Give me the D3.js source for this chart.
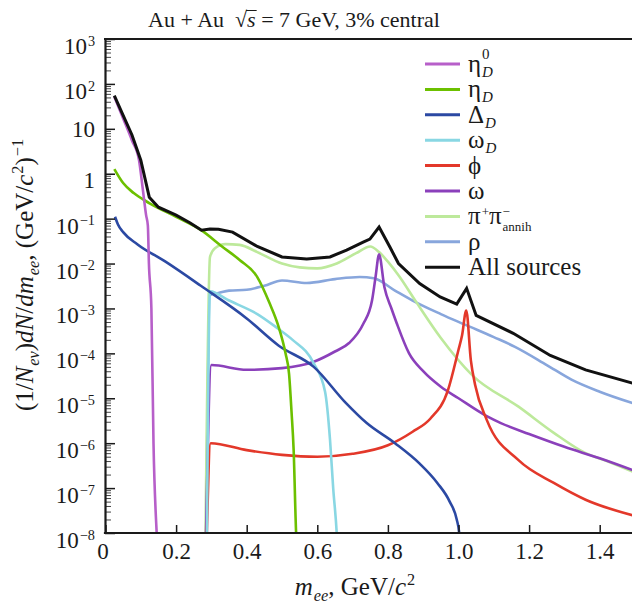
<!DOCTYPE html>
<html>
<head>
<meta charset="utf-8">
<script src="https://cdn.jsdelivr.net/npm/d3@7"></script>
<style>
  body { margin: 0; background: #fff; }
  text { font-family: "Liberation Serif", "Times New Roman", serif; fill: #1a1a1a; white-space: pre; }
</style>
</head>
<body>
<svg id="chart" width="632" height="607"></svg>
<script>
// values: [m_ee (GeV/c^2), dN/dm_ee]
const etaD0 = [[0.025, 52], [0.05, 17], [0.075, 5.5], [0.095, 2.0], [0.105, 0.5], [0.115, 0.12],
  [0.12, 0.07], [0.123, 0.01], [0.13, 1e-3], [0.136, 1e-6], [0.145, 1e-8], [0.147, 5e-9]];
const etaD = [[0.025, 1.27], [0.05, 0.62], [0.08, 0.37], [0.125, 0.22], [0.2, 0.11], [0.27, 0.056],
  [0.33, 0.024], [0.38, 0.012], [0.43, 5e-3], [0.465, 1.3e-3], [0.49, 4e-4], [0.51, 1e-4],
  [0.52, 3.5e-5], [0.527, 5e-6], [0.533, 7e-7], [0.54, 1e-8], [0.542, 5e-9]];
const deltaD = [[0.027, 0.11], [0.035, 0.075], [0.05, 0.05], [0.09, 0.027], [0.17, 0.011],
  [0.27, 3.2e-3], [0.4, 6e-4], [0.49, 1.5e-4], [0.59, 5e-5], [0.68, 8e-6], [0.74, 2.8e-6],
  [0.82, 1e-6], [0.89, 3.5e-7], [0.94, 1.3e-7], [0.975, 5e-8], [0.995, 2e-8], [1.002, 1e-8], [1.003, 5e-9]];
const omegaD = [[0.287, 5e-9], [0.296, 2.4e-3], [0.35, 1.5e-3], [0.43, 7.5e-4], [0.49, 3.5e-4],
  [0.53, 2e-4], [0.59, 6e-5], [0.622, 1.4e-5], [0.636, 1.2e-6], [0.645, 1e-7], [0.655, 1e-8], [0.657, 5e-9]];
const phi = [[0.286, 5e-9], [0.298, 1e-6], [0.4, 7e-7], [0.5, 5.5e-7], [0.6, 5e-7], [0.7, 5.8e-7],
  [0.8, 9e-7], [0.87, 1.8e-6], [0.92, 3.5e-6], [0.97, 1.5e-5], [1.0, 1.2e-4], [1.01, 2.5e-4],
  [1.022, 9e-4], [1.035, 7e-5], [1.047, 2e-5], [1.08, 3.3e-6], [1.17, 4.2e-7], [1.27, 1.3e-7],
  [1.36, 5.5e-8], [1.5, 2.4e-8]];
const omega = [[0.284, 5e-9], [0.3, 5.5e-5], [0.4, 4.3e-5], [0.5, 4.7e-5], [0.59, 6.5e-5],
  [0.65, 1.1e-4], [0.69, 1.7e-4], [0.73, 4.5e-4], [0.755, 1.5e-3], [0.765, 5e-3], [0.775, 0.016],
  [0.79, 3e-3], [0.81, 1e-3], [0.825, 4.7e-4], [0.86, 1e-4], [0.9, 4e-5], [0.95, 1.8e-5],
  [1.0, 1e-5], [1.08, 4e-6], [1.12, 2.8e-6], [1.2, 1.6e-6], [1.3, 8.3e-7], [1.4, 4.6e-7], [1.5, 2.4e-7]];
const pipiAnnih = [[0.283, 5e-9], [0.296, 0.014], [0.31, 0.022], [0.34, 0.027], [0.38, 0.026],
  [0.43, 0.018], [0.5, 0.01], [0.55, 0.0082], [0.6, 0.0078], [0.655, 0.01], [0.71, 0.017],
  [0.75, 0.024], [0.775, 0.018], [0.8, 0.011], [0.83, 5.5e-3], [0.88, 1.4e-3], [0.95, 2.2e-4],
  [1.04, 3.2e-5], [1.17, 6.5e-6], [1.27, 1.7e-6], [1.36, 6e-7], [1.42, 4e-7], [1.5, 2.2e-7]];
const rho = [[0.285, 5e-9], [0.296, 2e-3], [0.32, 2.2e-3], [0.35, 2.5e-3], [0.4, 2.6e-3],
  [0.45, 3.2e-3], [0.5, 4.2e-3], [0.57, 3.7e-3], [0.65, 4.5e-3], [0.72, 5e-3], [0.76, 4.7e-3],
  [0.82, 2.5e-3], [0.87, 1.5e-3], [0.95, 7.5e-4], [1.02, 4.3e-4], [1.1, 2.3e-4], [1.16, 1.4e-4],
  [1.25, 5.5e-5], [1.32, 2.6e-5], [1.4, 1.4e-5], [1.5, 7.5e-6]];
const allSources = [[0.025, 55], [0.05, 20], [0.075, 7.3], [0.1, 2.0], [0.124, 0.3], [0.15, 0.18],
  [0.2, 0.12], [0.24, 0.08], [0.272, 0.055], [0.296, 0.059], [0.32, 0.058], [0.36, 0.05],
  [0.43, 0.024], [0.5, 0.014], [0.57, 0.0126], [0.636, 0.014], [0.683, 0.02], [0.73, 0.03],
  [0.749, 0.035], [0.775, 0.065], [0.806, 0.023], [0.83, 0.01], [0.89, 3.6e-3], [0.948, 1.8e-3],
  [0.995, 1.25e-3], [1.023, 2.8e-3], [1.05, 7e-4], [1.155, 2.8e-4], [1.26, 9e-5], [1.36, 4.3e-5],
  [1.5, 2.1e-5]];

const xTickValues = [0, 0.2, 0.4, 0.6, 0.8, 1.0, 1.2, 1.4];
const yDecades = [-8, -7, -6, -5, -4, -3, -2, -1, 0, 1, 2, 3];

// legend labels: plain text parts and stacked sub/sup parts
const legendLabels = [
  [{ t: "η" }, { sub: "D", sup: "0" }],
  [{ t: "η" }, { sub: "D" }],
  [{ t: "Δ" }, { sub: "D" }],
  [{ t: "ω" }, { sub: "D" }],
  [{ t: "ϕ" }],
  [{ t: "ω" }],
  [{ t: "π" }, { sup: "+" }, { t: "π" }, { sup: "−", sub: "annih", subRoman: true }],
  [{ t: "ρ" }],
  [{ t: "All sources" }]
];
const seriesData = [etaD0, etaD, deltaD, omegaD, phi, omega, pipiAnnih, rho, allSources];
const seriesColors = ["#b75fc9", "#6cc000", "#2b49a3", "#89d7e3", "#e3382a", "#8b40bb", "#bde99b", "#88a6dc", "#111111"];
const drawOrder = [7, 6, 5, 4, 3, 2, 1, 0, 8];

const svg = d3.select("#chart");
const x = d3.scaleLinear().domain([0, 1.5]).range([105.5, 635]);
const y = d3.scaleLog().domain([1e-8, 1e3]).range([533, 39]);

// write a label made of parts; returns end x
function richText(g, x0, y0, parts, size, opt = {}) {
  const sc = opt.scale || 0.62, supDy = opt.supDy || 0.5, subDy = opt.subDy || 0.22;
  let cx = x0;
  parts.forEach(p => {
    if (p.t !== undefined) {
      const t = g.append("text").attr("x", cx).attr("y", y0)
        .style("font-size", size + "px")
        .style("font-style", p.i ? "italic" : "normal")
        .text(p.t);
      cx += t.node().getComputedTextLength();
    } else {
      let w = 0;
      if (p.sup) {
        const t = g.append("text").attr("x", cx + 1).attr("y", y0 - size * supDy)
          .style("font-size", (size * sc) + "px").text(p.sup);
        w = Math.max(w, t.node().getComputedTextLength() + 1);
      }
      if (p.sub) {
        const t = g.append("text").attr("x", cx + 1).attr("y", y0 + size * subDy)
          .style("font-size", (size * sc) + "px")
          .style("font-style", p.subRoman ? "normal" : "italic").text(p.sub);
        w = Math.max(w, t.node().getComputedTextLength() + 1);
      }
      cx += w;
    }
  });
  return cx;
}

svg.append("defs").append("clipPath").attr("id", "plotClip")
  .append("rect").attr("x", 105).attr("y", 39).attr("width", 530).attr("height", 494);

// curves: smooth ones monotone, the sum kept as a polyline with its kinks
const smooth = d3.line().x(d => x(d[0])).y(d => y(d[1])).curve(d3.curveMonotoneX);
const straight = d3.line().x(d => x(d[0])).y(d => y(d[1]));
const curves = svg.append("g").attr("clip-path", "url(#plotClip)");
drawOrder.forEach(i => {
  curves.append("path")
    .attr("d", (i === 8 ? straight : smooth)(seriesData[i]))
    .attr("fill", "none")
    .attr("stroke", seriesColors[i])
    .attr("stroke-width", i === 8 ? 3 : 2.6)
    .attr("stroke-linejoin", "miter");
});

// y axis: major and minor ticks pointing inward
const majors = yDecades.map(e => Math.pow(10, e));
const minors = [];
yDecades.slice(0, -1).forEach(e => {
  for (let k = 2; k <= 9; k++) minors.push(k * Math.pow(10, e));
});
svg.append("g").attr("transform", "translate(105,0)")
  .call(d3.axisLeft(y).tickValues(minors).tickSizeInner(-6).tickSizeOuter(0).tickFormat(""))
  .call(g => g.select(".domain").remove())
  .call(g => g.selectAll(".tick line").attr("stroke", "#444").attr("stroke-width", 1));
svg.append("g").attr("transform", "translate(105,0)")
  .call(d3.axisLeft(y).tickValues(majors).tickSizeInner(-10).tickSizeOuter(0).tickFormat(""))
  .call(g => g.select(".domain").attr("stroke", "#1a1a1a").attr("stroke-width", 2.2))
  .call(g => g.selectAll(".tick line").attr("stroke", "#1a1a1a").attr("stroke-width", 1.5));

// y tick labels with exponents
yDecades.forEach(e => {
  const g = svg.append("g");
  const ty = y(Math.pow(10, e));
  let parts, base;
  if (e === 0) { parts = [{ t: "1" }]; base = ty + 14; }
  else if (e === 1) { parts = [{ t: "10" }]; base = ty + 8; }
  else { parts = [{ t: "10" }, { sup: e < 0 ? "−" + (-e) : String(e) }]; base = ty + 15; }
  const end = richText(g, 0, base, parts, 23, { scale: 0.62, supDy: 0.36 });
  g.attr("transform", `translate(${95 - end},0)`);
});

// x axis
svg.append("g").attr("transform", "translate(0,533)")
  .call(d3.axisBottom(x).tickValues(xTickValues).tickSizeInner(-8).tickSizeOuter(0).tickPadding(10)
    .tickFormat(d => d === 0 ? "0" : d.toFixed(1)))
  .call(g => g.select(".domain").attr("stroke", "#1a1a1a").attr("stroke-width", 2.2)
    .attr("d", "M103.9,0H632"))
  .call(g => g.selectAll(".tick line").attr("stroke", "#1a1a1a").attr("stroke-width", 1.5))
  .call(g => g.selectAll(".tick text").style("font-size", "23px")
    .style("font-family", "'Liberation Serif', serif").attr("fill", "#1a1a1a")
    .attr("dx", d => d === 0 ? -3 : 0));

// title
const titleG = svg.append("g");
let tx = richText(titleG, 0, 27, [{ t: "Au + Au  √" }], 22);
const sText = titleG.append("text").attr("x", tx).attr("y", 27)
  .style("font-size", "22px").style("font-style", "italic").text("s");
const sW = sText.node().getComputedTextLength();
titleG.append("line").attr("x1", tx - 1).attr("x2", tx + sW + 1).attr("y1", 10.5).attr("y2", 10.5)
  .attr("stroke", "#1a1a1a").attr("stroke-width", 1);
tx = richText(titleG, tx + sW, 27, [{ t: " = 7 GeV, 3% central" }], 22);
titleG.attr("transform", `translate(${294 - tx / 2},0)`);

// top frame
svg.append("line").attr("x1", 104).attr("x2", 632).attr("y1", 39).attr("y2", 39)
  .attr("stroke", "#1a1a1a").attr("stroke-width", 2.2);

// x axis title
const xTitle = svg.append("g");
const xEnd = richText(xTitle, 0, 595,
  [{ t: "m", i: true }, { sub: "ee" }, { t: ", GeV/" }, { t: "c", i: true }, { sup: "2" }], 25,
  { scale: 0.65, supDy: 0.4, subDy: 0.22 });
xTitle.attr("transform", `translate(${355 - xEnd / 2},0)`);

// y axis title
const yTitle = svg.append("g");
const yInner = yTitle.append("g");
const yEnd = richText(yInner, 0, 0,
  [{ t: "(1/" }, { t: "N", i: true }, { sub: "ev" }, { t: ")" }, { t: "dN", i: true }, { t: "/" },
   { t: "dm", i: true }, { sub: "ee" }, { t: ", (GeV/" }, { t: "c", i: true }, { sup: "2" },
   { t: ")" }, { sup: "−1" }], 25, { scale: 0.65, supDy: 0.4, subDy: 0.22 });
yInner.attr("transform", `translate(${-yEnd / 2},0)`);
yTitle.attr("transform", "translate(33,275) rotate(-90)");

// legend
const legend = svg.append("g");
legendLabels.forEach((parts, i) => {
  const ly = 64 + i * 25.4;
  legend.append("line").attr("x1", 425).attr("x2", 460).attr("y1", ly).attr("y2", ly)
    .attr("stroke", seriesColors[i]).attr("stroke-width", 3);
  const opt = i === 6 ? { scale: 0.52, supDy: 0.32, subDy: 0.27 } : { scale: 0.6, supDy: 0.52, subDy: 0.2 };
  richText(legend, 468, ly + 8, parts, 25, opt);
});
</script>
</body>
</html>
